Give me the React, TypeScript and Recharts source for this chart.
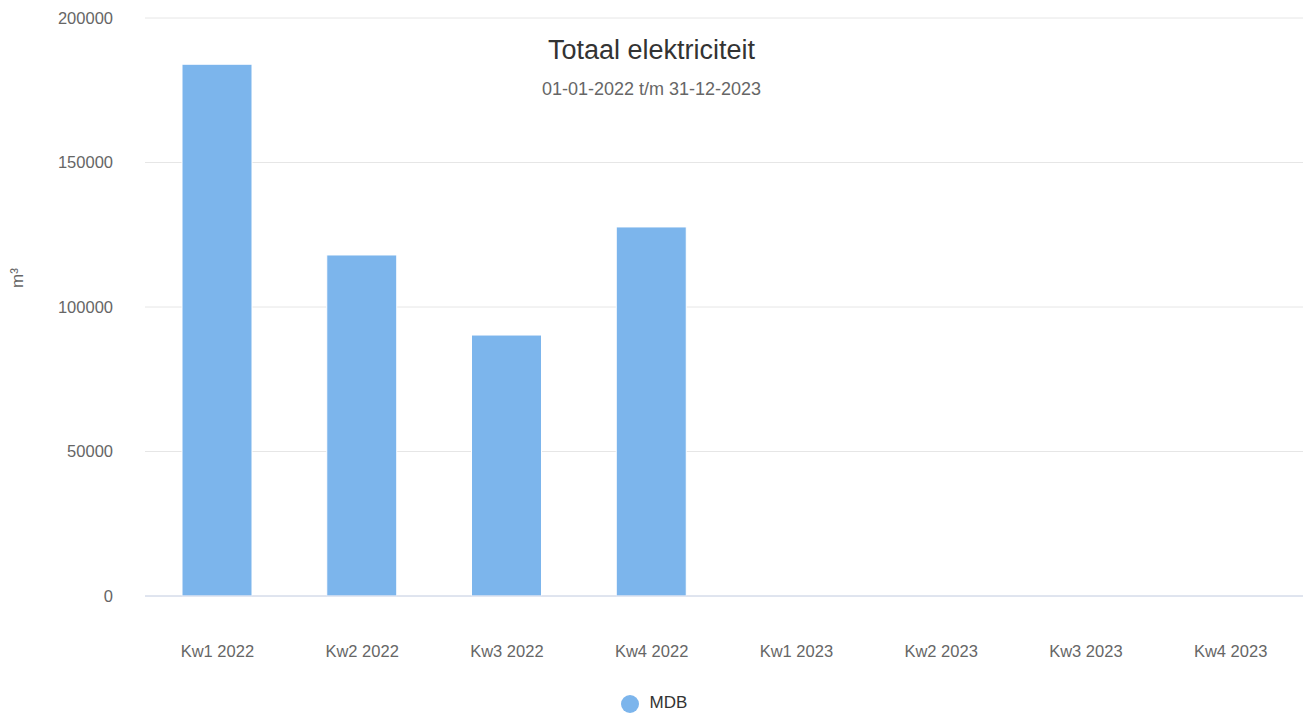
import React from "react";
import {
  BarChart,
  Bar,
  XAxis,
  YAxis,
  CartesianGrid,
  Legend,
  Label,
} from "recharts";

const categories = [
  "Kw1 2022",
  "Kw2 2022",
  "Kw3 2022",
  "Kw4 2022",
  "Kw1 2023",
  "Kw2 2023",
  "Kw3 2023",
  "Kw4 2023",
];
const mdb: (number | null)[] = [184000, 118000, 90300, 127700, null, null, null, null];
const yTicks = [0, 50000, 100000, 150000, 200000];

const FONT = '"Liberation Sans", Arial, sans-serif';

const data = categories.map((name, i) => ({ name, MDB: mdb[i] }));

export default function App() {
  return (
    <div
      style={{
        position: "absolute",
        left: 0,
        top: 0,
        width: 1303,
        height: 715,
        fontFamily: FONT,
        background: "#fff",
      }}
    >
      <BarChart
        width={1303}
        height={715}
        data={data}
        margin={{ top: 18, right: 0, bottom: 0, left: 0 }}
      >
        <CartesianGrid vertical={false} stroke="#e6e6e6" />
        <XAxis
          dataKey="name"
          height={95}
          tickLine={false}
          axisLine={{ stroke: "#ccd6eb" }}
          tickMargin={43}
          tick={{ fill: "#666", fontSize: 16.5, fontFamily: FONT }}
          interval={0}
        />
        <YAxis
          width={145}
          domain={[0, 200000]}
          ticks={yTicks}
          axisLine={false}
          tickLine={false}
          tickMargin={26}
          tick={{ fill: "#666", fontSize: 16.5, fontFamily: FONT }}
        >
          <Label
            content={({ viewBox }: any) => {
              const cx = viewBox.x + 17;
              const cy = viewBox.y + viewBox.height / 2 - 29;
              return (
                <text
                  x={cx}
                  y={cy}
                  transform={`rotate(-90 ${cx} ${cy})`}
                  textAnchor="middle"
                  dominantBaseline="central"
                  fill="#666"
                  fontSize={17}
                  fontFamily={FONT}
                >
                  m³
                </text>
              );
            }}
          />
        </YAxis>
        <Legend
          verticalAlign="bottom"
          iconType="circle"
          iconSize={18}
          wrapperStyle={{
            fontSize: 17,
            fontFamily: FONT,
            lineHeight: "24px",
            height: 24,
            paddingLeft: 15,
            boxSizing: "border-box",
          }}
          formatter={(value) => (
            <span style={{ color: "#333", marginLeft: 7 }}>{value}</span>
          )}
        />
        <Bar
          dataKey="MDB"
          fill="#7cb5ec"
          stroke="#ffffff"
          strokeWidth={1}
          barSize={70}
          isAnimationActive={false}
        />
      </BarChart>
      <div
        style={{
          position: "absolute",
          left: 0,
          width: 1303,
          top: 37,
          textAlign: "center",
          fontSize: 27,
          lineHeight: "27px",
          color: "#333",
          pointerEvents: "none",
        }}
      >
        Totaal elektriciteit
      </div>
      <div
        style={{
          position: "absolute",
          left: 0,
          width: 1303,
          top: 80,
          textAlign: "center",
          fontSize: 18,
          lineHeight: "18px",
          color: "#666",
          pointerEvents: "none",
        }}
      >
        01-01-2022 t/m 31-12-2023
      </div>
    </div>
  );
}
